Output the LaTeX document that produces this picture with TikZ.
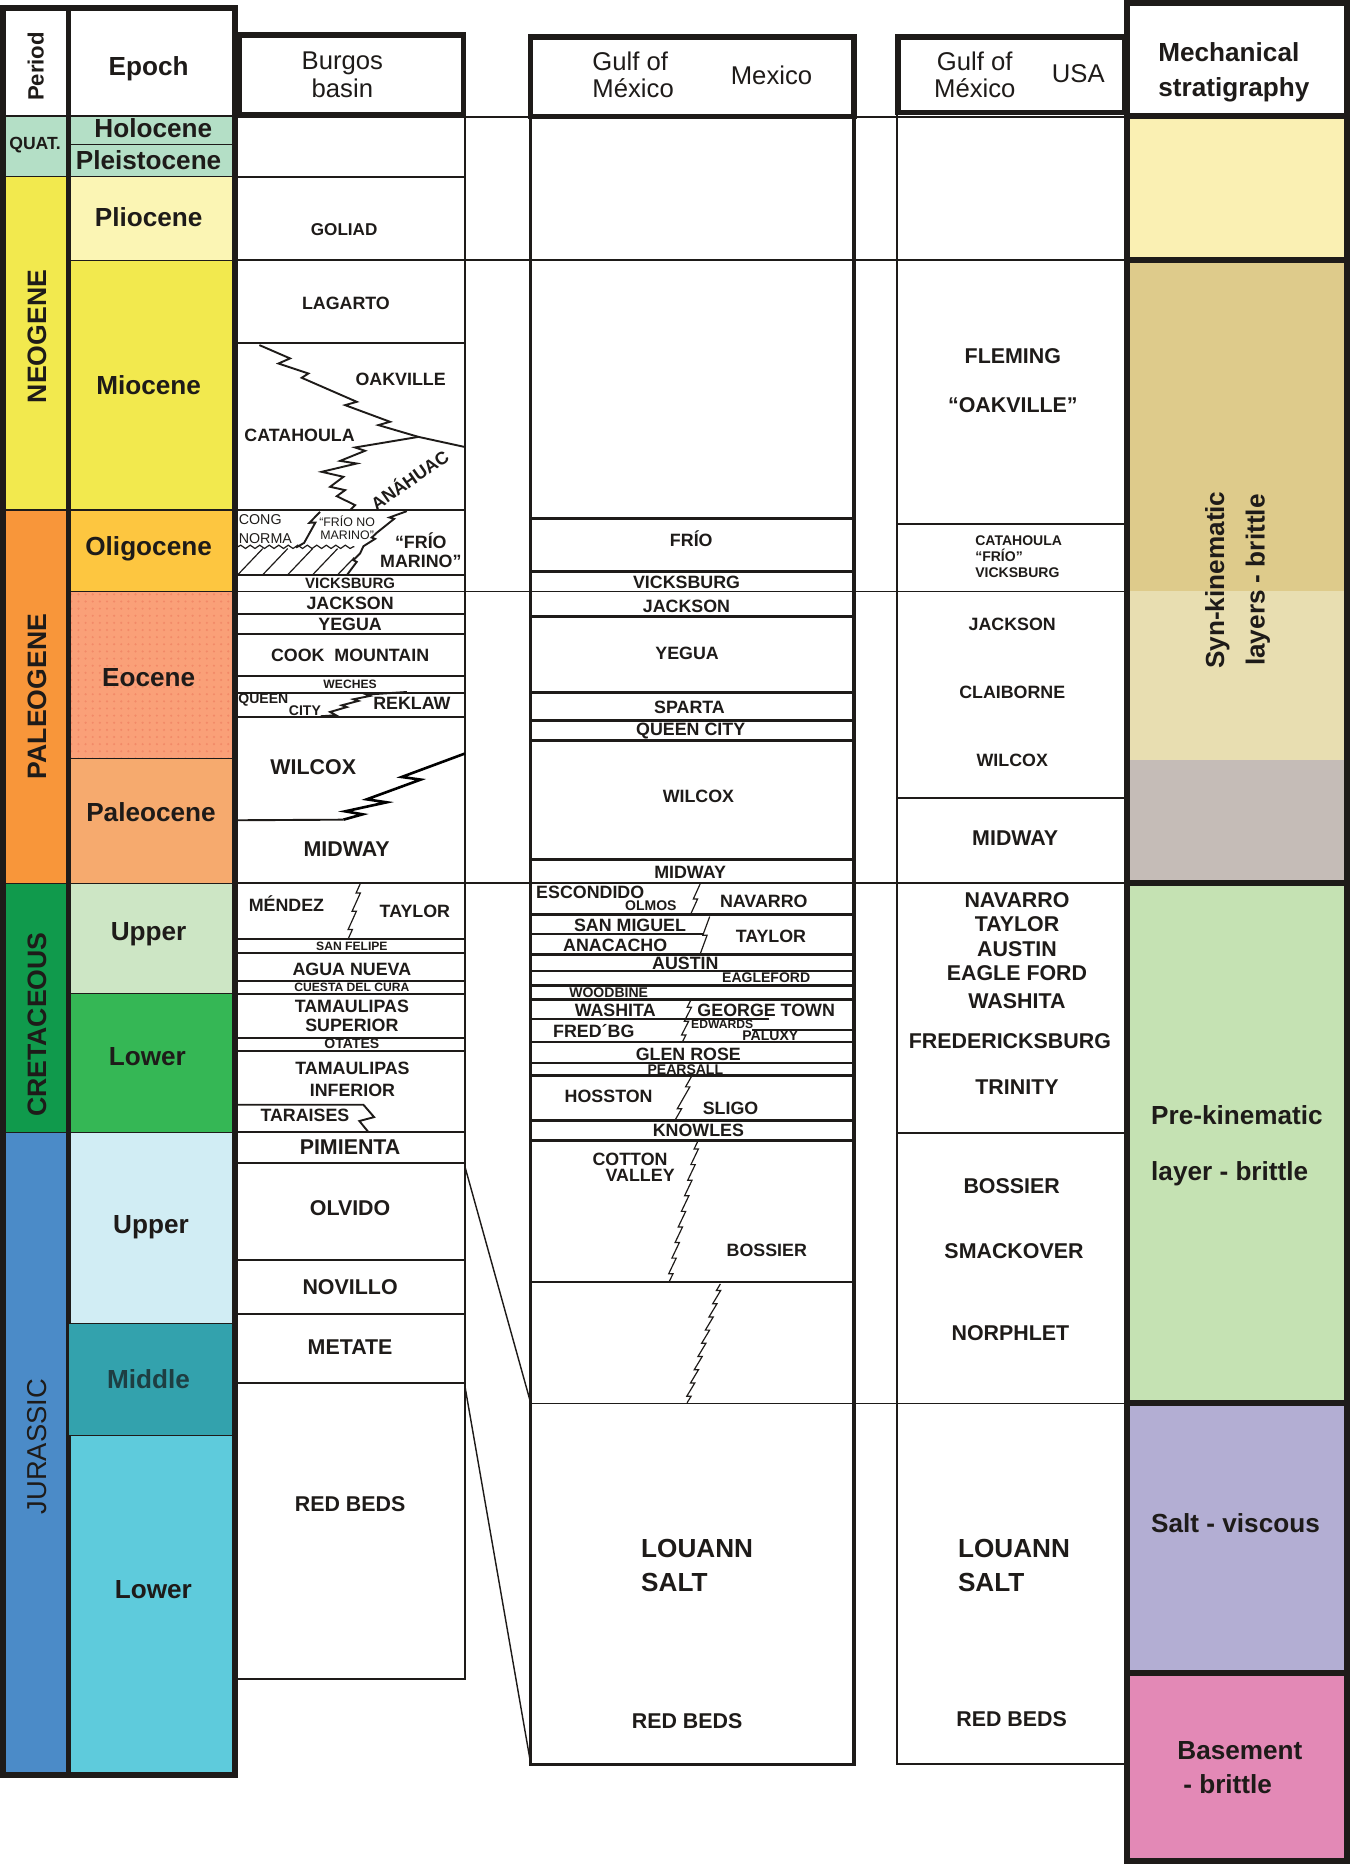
\documentclass[tikz,border=0pt]{standalone}
\usepackage{fontspec}
\setmainfont{Liberation Sans}
\usetikzlibrary{calc,patterns,decorations.pathmorphing}
\definecolor{stInk}   {RGB}{ 30, 27, 25}
\definecolor{stQuat}  {RGB}{180,223,198}
\definecolor{stNeo}   {RGB}{242,233, 78}
\definecolor{stPlio}  {RGB}{251,245,180}
\definecolor{stPaleo} {RGB}{248,150, 58}
\definecolor{stOligo} {RGB}{253,198, 64}
\definecolor{stEoc}   {RGB}{250,160,120}
\definecolor{stEocD}  {RGB}{242,138,104}
\definecolor{stPaleoc}{RGB}{246,170,110}
\definecolor{stCret}  {RGB}{ 16,154, 76}
\definecolor{stUpK}   {RGB}{205,230,197}
\definecolor{stLoK}   {RGB}{ 53,183, 85}
\definecolor{stJur}   {RGB}{ 75,139,200}
\definecolor{stUpJ}   {RGB}{209,237,244}
\definecolor{stMidJ}  {RGB}{ 51,162,173}
\definecolor{stMidTx} {RGB}{ 30, 62, 66}
\definecolor{stLoJ}   {RGB}{ 94,203,220}
\definecolor{mcYellow}{RGB}{250,240,179}
\definecolor{mcTan}   {RGB}{222,203,139}
\definecolor{mcTanL}  {RGB}{232,222,177}
\definecolor{mcGrey}  {RGB}{197,188,183}
\definecolor{mcGreen} {RGB}{197,226,179}
\definecolor{mcLav}   {RGB}{179,174,211}
\definecolor{mcPink}  {RGB}{227,137,182}

\begin{document}
\begin{tikzpicture}[
  x=0.5pt,y=-0.5pt,
  every node/.style={inner sep=0pt,text=stInk},
  frame/.style={line width=2.6pt,draw=stInk},
  hbox/.style={line width=2.3pt,draw=stInk},
  cell/.style={line width=0.5pt,draw=stInk},
  bed/.style={line width=0.8pt,draw=stInk},
  bedK/.style={line width=1.1pt,draw=stInk},
  gcol/.style={line width=1.4pt,draw=stInk},
  tie/.style={line width=0.6pt,draw=stInk},
  zz/.style={line width=0.5pt,draw=stInk},
  hdr/.style={font=\fontsize{10.8}{11.6}\selectfont,align=center},
  per/.style={rotate=90,font=\fontsize{11.2}{13}\selectfont\bfseries},
  ep/.style={font=\fontsize{11}{13}\selectfont\bfseries},
  fm/.style={font=\fontsize{7.5}{8.5}\selectfont\bfseries,align=center},
  fmL/.style={font=\fontsize{9}{10.5}\selectfont\bfseries,align=center},
  fmS/.style={font=\fontsize{5.9}{6.8}\selectfont\bfseries,align=center},
  fmT/.style={font=\fontsize{5.1}{6}\selectfont\bfseries},
  big/.style={font=\fontsize{11}{14.5}\selectfont\bfseries,align=left},
  mech/.style={font=\fontsize{11}{14.5}\selectfont\bfseries,align=left}
]
\useasboundingbox (0,0) rectangle (1136,1568);
\def\interfinger#1#2#3{%
  \draw[zz] (#1) \foreach \k [evaluate=\k as \t using (\k-0.5)/#3] in {1,...,#3}
    { -- ($(#1)!\t!(#2)+(-1.8,0)$) -- ($(#1)!\t!(#2)+(1.8,0)$) } -- (#2);}

% --- Period and epoch columns
\filldraw[cell,fill=stQuat]   (4,97.6)   rectangle (57.5,148.7);
\filldraw[cell,fill=stNeo]    (4,148.7)  rectangle (57.5,429);
\filldraw[cell,fill=stPaleo]  (4,429)    rectangle (57.5,743);
\filldraw[cell,fill=stCret]   (4,743)    rectangle (57.5,952.5);
\filldraw[cell,fill=stJur]    (4,952.5)  rectangle (57.5,1491);
\filldraw[cell,fill=stQuat]   (57.5,97.6)  rectangle (196,121.5);
\filldraw[cell,fill=stQuat]   (57.5,121.5) rectangle (196,148.7);
\filldraw[cell,fill=stPlio]   (57.5,148.7) rectangle (196,218.8);
\filldraw[cell,fill=stNeo]    (57.5,218.8) rectangle (196,429);
\filldraw[cell,fill=stOligo]  (57.5,429)   rectangle (196,497.5);
\filldraw[cell,fill=stEoc]    (57.5,497.5) rectangle (196,638);
\fill[pattern=dots,pattern color=stEocD] (59,499) rectangle (195,637);
\filldraw[cell,fill=stPaleoc] (57.5,638)   rectangle (196,743);
\filldraw[cell,fill=stUpK]    (57.5,743)   rectangle (196,835.5);
\filldraw[cell,fill=stLoK]    (57.5,835.5) rectangle (196,952.5);
\filldraw[cell,fill=stUpJ]    (57.5,952.5) rectangle (196,1113.4);
\filldraw[cell,fill=stLoJ]    (57.5,1207.7) rectangle (196,1491);
\draw[line width=2pt,draw=stInk] (57.5,6.5) -- (57.5,1493);
\filldraw[cell,fill=stMidJ]   (57.5,1113.4) rectangle (196,1207.7);
\draw[frame] (2.5,6.5) rectangle (197.7,1493);

\node[per,font=\fontsize{9.3}{11}\selectfont\bfseries] (pHead) at (30,56) {Period};
\node[font=\fontsize{7.4}{9}\selectfont\bfseries] (pQuat) at (29.5,122) {QUAT.};
\node[per] (pNeo) at (31,283) {NEOGENE};
\node[per] (pPal) at (31,586) {PALEOGENE};
\node[per] (pCre) at (31,862) {CRETACEOUS};
\node[per,font=\fontsize{11.5}{13}\selectfont] (pJur) at (31,1217) {JURASSIC};

\node[ep] (eHead)   at (125,58)   {Epoch};
\node[ep] (eHolo)   at (129,108)  {Holocene};
\node[ep] (ePleis)  at (125,134.5) {Pleistocene};
\node[ep] (ePlio)   at (125,183)  {Pliocene};
\node[ep] (eMio)    at (125,324)  {Miocene};
\node[ep] (eOligo)  at (125,462)  {Oligocene};
\node[ep] (eEoc)    at (125,570)  {Eocene};
\node[ep] (ePaleoc) at (127,683)  {Paleocene};
\node[ep] (eUpK)    at (125,786)  {Upper};
\node[ep] (eLoK)    at (124,889)  {Lower};
\node[ep] (eUpJ)    at (127,1032) {Upper};
\node[ep,text=stMidTx] (eMidJ) at (125,1160) {Middle};
\node[ep] (eLoJ)    at (129,1337) {Lower};

% --- Mechanical stratigraphy
\fill[mcYellow] (948,97.6)  rectangle (1133,218.8);
\fill[mcTan]    (948,218.8) rectangle (1133,497);
\fill[mcTanL]   (948,497)   rectangle (1133,638.9);
\fill[mcGrey]   (948,638.9) rectangle (1133,742.6);
\fill[mcGreen]  (948,742.6) rectangle (1133,1180.5);
\fill[mcLav]    (948,1180.5) rectangle (1133,1407);
\fill[mcPink]   (948,1407)  rectangle (1133,1565);
\draw[frame] (948,2.6) rectangle (1133.2,1565.4);
\foreach \yy in {97.6,218.8,742.6,1180.5,1407}
  \draw[frame] (948,\yy) -- (1133.2,\yy);

% --- Headers
\draw[hbox] (201,29.3) rectangle (389.9,96.7);
\draw[hbox] (446.2,31) rectangle (718.5,98);
\draw[hbox] (755.5,31) rectangle (946,94.5);
\node[hdr] (hBurgos) at (288,63) {Burgos\\basin};
\node[hdr,align=left,anchor=west] (hGulfMx) at (498,63) {Gulf of\\México};
\node[hdr] (hMexico) at (649,63) {Mexico};
\node[hdr] (hGulfUs) at (820,63) {Gulf of\\México};
\node[hdr] (hUsa)    at (907,62) {USA};
\node[mech,anchor=west] (hMech) at (974,61) {Mechanical\\stratigraphy};

% --- Correlation ties
\draw[tie] (391,98.5) -- (946,98.5);
\draw[tie] (391,218.8) -- (946,218.8);
\foreach \yy in {497.6,742.8}
  \draw[bed] (199,\yy) -- (946,\yy);
\draw[tie] (446.5,1180.4) -- (946,1180.4);
\coordinate (slOa) at (391,981);
\coordinate (slOb) at (446.5,1180.4);
\coordinate (slRa) at (391,1165.5);
\coordinate (slRb) at (446.5,1484);
\draw[tie] (slOa) -- (slOb);
\draw[tie] (slRa) -- (slRb);

% --- Burgos basin
\draw[bed] (391,97.6) -- (391,1412.3) -- (199,1412.3);
\foreach \yy in {148.7,218.8,288.4,429.2,483.9,516.7,533,568.6,582.9,603.1,
                 789.6,801.4,825,836.2,873.3,884.1,952.3,978.4,1059.7,1105.2,1163.5}
  \draw[bed] (199,\yy) -- (391,\yy);
\draw[bed] (218.2,290.3) -- (244,301.5) -- (234.2,305.8) -- (259.4,314.2) -- (253.8,317.8)
  -- (300.1,338) -- (290.3,340.8) -- (328.1,354.8) -- (318.3,357.6) -- (352,367.5) -- (391,376);
\draw[bed] (352,367.5) -- (298.7,376.4) -- (307.1,379.2) -- (286.1,387.7) -- (300.1,389.9)
  -- (270.6,396.9) -- (288.9,401.1) -- (277.7,409.5) -- (290.3,412.3) -- (283.3,417.4)
  -- (298.7,424.9) -- (294.5,429.2);
\draw[bed] (269.2,430.6) -- (260.3,439.8) -- (265.3,439.6) -- (255.8,456.7) -- (249,460.6);
\draw[bed] (342.2,430) -- (327.6,435.3) -- (331.5,436.5) -- (316.9,448.2) -- (312.7,452.2)
  -- (315.5,453.3) -- (305.7,459.5) -- (302.9,465.6) -- (297.3,471.2) -- (300.1,472.6) -- (291.7,483.9);
\draw[zz,decorate,decoration={snake,amplitude=0.7pt,segment length=4pt}] (200,460) -- (298,460);
\foreach \hx in {200,221,242,263}
  \draw[zz] (\hx,483.5) -- ++(21,-22);
\draw[zz] (284,483.5) -- (298,469);
\draw[bed] (269.8,602.5) -- (282.7,601.7) -- (277.7,598.9) -- (291.7,594.8) -- (287.5,593.3)
  -- (301.5,589.6) -- (297.3,588.2) -- (311.3,585.4) -- (308.5,584.3) -- (342.2,582.1);
\draw[bed] (199,690) -- (288.9,689.5);
\draw[line width=1.1pt] (288.9,689.5) -- (305.1,685) -- (290.3,682.5) -- (325.3,674.9)
  -- (308.5,672.4) -- (353.9,655.8) -- (337.9,653.6) -- (391,633.9);
\interfinger{303,743.5}{293,789.5}{3}
\draw[bed] (199,929.3) -- (305.7,929.3) -- (314.7,939.7) -- (302.3,943) -- (309.9,952.3);

\node[fm,font=\fontsize{7.2}{8}\selectfont\bfseries] (bGoliad) at (289.5,193) {GOLIAD};
\node[fm] (bLagarto)   at (291,255)   {LAGARTO};
\node[fm] (bOakville)  at (337,319)   {OAKVILLE};
\node[fm] (bCatahoula) at (252,366)   {CATAHOULA};
\node[fm,rotate=35] (bAnahuac) at (344,403) {ANÁHUAC};
\node[font=\fontsize{6}{7.7}\selectfont,align=left,anchor=west] (bCong) at (200.5,445) {CONG\\NORMA};
\node[font=\fontsize{5.2}{5.6}\selectfont,align=center] (bFrioNM) at (292,444) {“FRÍO NO\\MARINO”};
\node[fm,font=\fontsize{7.5}{7.9}\selectfont\bfseries] (bFrioM) at (354,463) {“FRÍO\\MARINO”};
\node[fmS,font=\fontsize{6.3}{7}\selectfont\bfseries] (bVicks) at (294.5,491) {VICKSBURG};
\node[fm] (bJackson)   at (294.5,507.5) {JACKSON};
\node[fm] (bYegua)     at (294.5,525)   {YEGUA};
\node[fm] (bCook)      at (294.5,551)   {COOK\ \ MOUNTAIN};
\node[fmT] (bWeches)   at (294.5,576)   {WECHES};
\node[fmS] (bQueen)    at (221.5,589)   {QUEEN};
\node[fmS] (bCity)     at (256.5,597.5) {CITY};
\node[fm] (bReklaw)    at (346.5,592)   {REKLAW};
\node[fmL] (bWilcox)   at (263.5,645)   {WILCOX};
\node[fmL] (bMidway)   at (291.5,714)   {MIDWAY};
\node[fm] (bMendez)    at (241,760)     {MÉNDEZ};
\node[fm] (bTaylor)    at (349,767)     {TAYLOR};
\node[fmT] (bSanFelipe) at (296,796)    {SAN FELIPE};
\node[fm] (bAgua)      at (296,815)     {AGUA NUEVA};
\node[fmT] (bCuesta)   at (296,830.5)   {CUESTA DEL CURA};
\node[fm,font=\fontsize{7.5}{7.7}\selectfont\bfseries] (bTamSup) at (296,854.5) {TAMAULIPAS\\SUPERIOR};
\node[fmS] (bOtates)   at (296,878)     {OTATES};
\node[fm,font=\fontsize{7.5}{9.1}\selectfont\bfseries] (bTamInf) at (296.5,908) {TAMAULIPAS\\INFERIOR};
\node[fm] (bTaraises)  at (256.5,938.5) {TARAISES};
\node[fmL] (bPimienta) at (294.5,965)   {PIMIENTA};
\node[fmL] (bOlvido)   at (294.5,1016)  {OLVIDO};
\node[fmL] (bNovillo)  at (294.5,1083)  {NOVILLO};
\node[fmL] (bMetate)   at (294.5,1133)  {METATE};
\node[fmL] (bRedBeds)  at (294.5,1265)  {RED BEDS};

% --- Gulf of Mexico, Mexico
\draw[gcol] (446.5,98) -- (446.5,1484) -- (718.3,1484) -- (718.3,98);
\foreach \yy in {436.2,480.5,518.4,582.6,605.9,622.7,723.1,769.4,802.8,816.8,828.9,
                 840.7,876.6,894.2,904.6,942.5,959.3,1078.5}
  \draw[bedK] (446.5,\yy) -- (718.3,\yy);
\draw[bed] (446.5,785.4) -- (592,785.4);
\draw[bed] (446.5,857.5) -- (646.5,857.5);
\draw[bed] (632.5,866.2) -- (718.3,866.2);
\interfinger{589,743.5}{581,769}{1}
\interfinger{597,771}{589,802.5}{1}
\interfinger{581,841.5}{574,876.5}{3}
\interfinger{582,905}{568,942}{2}
\interfinger{587,960}{563,1078}{9}
\interfinger{606,1080}{578,1180}{9}

\node[fm] (gFrio)      at (581.5,453)   {FRÍO};
\node[fm] (gVicks)     at (577.5,489.5) {VICKSBURG};
\node[fm] (gJackson)   at (577.5,510)   {JACKSON};
\node[fm] (gYegua)     at (578,550)     {YEGUA};
\node[fm] (gSparta)    at (580,595)     {SPARTA};
\node[fm] (gQueen)     at (581,615)     {QUEEN CITY};
\node[fm] (gWilcox)    at (587.5,670)   {WILCOX};
\node[fm] (gMidway)    at (580.5,733.5) {MIDWAY};
\node[fm] (gEscondido) at (496.5,751)   {ESCONDIDO};
\node[fmS] (gOlmos)    at (547.5,761.5) {OLMOS};
\node[fm] (gNavarro)   at (642.5,758)   {NAVARRO};
\node[fm] (gSanMiguel) at (530,778.5)   {SAN MIGUEL};
\node[fm] (gAnacacho)  at (517.5,795)   {ANACACHO};
\node[fm] (gTaylor)    at (648.5,787.5) {TAYLOR};
\node[fm] (gAustin)    at (576.5,810)   {AUSTIN};
\node[fmS] (gEagle)    at (644.5,822.5) {EAGLEFORD};
\node[fmS] (gWoodbine) at (512,835)     {WOODBINE};
\node[fm] (gWashita)   at (517.5,850)   {WASHITA};
\node[fm] (gGeorge)    at (644.5,849.5) {GEORGE TOWN};
\node[fm] (gFredbg)    at (499.5,867.5) {FRED´BG};
\node[fmT] (gEdwards)  at (607.5,861.5) {EDWARDS};
\node[fmS] (gPaluxy)   at (648,871.5)   {PALUXY};
\node[fm] (gGlenRose)  at (579,887)     {GLEN ROSE};
\node[fmS] (gPearsall) at (576.5,900)   {PEARSALL};
\node[fm] (gHosston)   at (512,922)     {HOSSTON};
\node[fm] (gSligo)     at (614.5,932.5) {SLIGO};
\node[fm] (gKnowles)   at (587.5,951)   {KNOWLES};
\node[fm] (gCotton)    at (530,975)     {COTTON};
\node[fm] (gValley)    at (538.5,989)   {VALLEY};
\node[fm] (gBossier)   at (645,1052)    {BOSSIER};
\node[big,anchor=west] (gLouann) at (539,1317) {LOUANN\\SALT};
\node[fmL] (gRedBeds)  at (578,1447.5)  {RED BEDS};

% --- Gulf of Mexico, USA
\draw[bed] (754.5,94) -- (754.5,1484) -- (946,1484);
\foreach \yy in {440.5,671.4,953.2}
  \draw[bed] (754.5,\yy) -- (946,\yy);

\node[fmL] (uFleming)  at (852,299.5)  {FLEMING};
\node[fmL] (uOakville) at (852,341)    {“OAKVILLE”};
\node[fmS,align=left,anchor=west] (uCatahoula) at (820,468) {CATAHOULA\\“FRÍO”\\VICKSBURG};
\node[fm] (uJackson)   at (851.5,525)  {JACKSON};
\node[fm] (uClaiborne) at (851.5,582)  {CLAIBORNE};
\node[fm] (uWilcox)    at (851.5,639.5) {WILCOX};
\node[fmL] (uMidway)   at (854,705)    {MIDWAY};
\node[fmL] (uNavarro)  at (855.5,757.5) {NAVARRO};
\node[fmL] (uTaylor)   at (855.5,777.5) {TAYLOR};
\node[fmL] (uAustin)   at (855.5,798.5) {AUSTIN};
\node[fmL] (uEagle)    at (855.5,818.5) {EAGLE FORD};
\node[fmL] (uWashita)  at (855.5,842.5) {WASHITA};
\node[fmL] (uFredbg)   at (849.5,876)  {FREDERICKSBURG};
\node[fmL] (uTrinity)  at (855.5,914.5) {TRINITY};
\node[fmL] (uBossier)  at (851,997.5)  {BOSSIER};
\node[fmL] (uSmack)    at (853,1052.5) {SMACKOVER};
\node[fmL] (uNorphlet) at (850,1121.5) {NORPHLET};
\node[big,anchor=west] (uLouann) at (805.5,1317) {LOUANN\\SALT};
\node[fmL] (uRedBeds)  at (851,1446.5) {RED BEDS};

% --- Mechanical labels
\node[mech,rotate=90,align=center,font=\fontsize{11}{17}\selectfont\bfseries] (mSyn) at (1041,488)
   {Syn-kinematic\\layers - brittle};
\node[mech,anchor=west,font=\fontsize{11}{23.5}\selectfont\bfseries] (mPre) at (968,964)
   {Pre-kinematic\\layer - brittle};
\node[mech,anchor=west] (mSalt) at (968,1281.5) {Salt - viscous};
\node[mech,anchor=west] (mBase) at (990,1487) {Basement\\\hspace{2.5pt}- brittle};
\end{tikzpicture}
\end{document}
